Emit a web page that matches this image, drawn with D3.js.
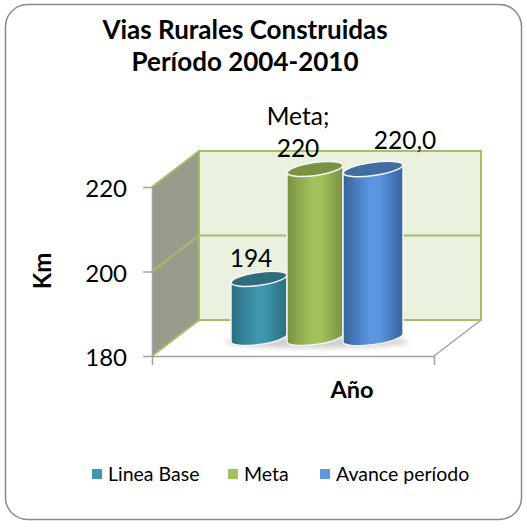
<!DOCTYPE html>
<html>
<head>
<meta charset="utf-8">
<script src="https://cdnjs.cloudflare.com/ajax/libs/d3/7.8.5/d3.min.js"></script>
<style>
    html, body { margin: 0; padding: 0; background: #fff; }
    svg { display: block; }
    text { font-family: Lato, "Open Sans", sans-serif; fill: #000; }
</style>
</head>
<body>
<svg id="chart" width="527" height="529"></svg>
<script>
var titleLines = ['Vias Rurales Construidas', 'Período 2004-2010'];
var series = ['Linea Base', 'Meta', 'Avance período'];
var values = [194, 220, 220];
var valueLabels = [['194'], ['Meta;', '220'], ['220,0']];
var yTicks = [180, 200, 220];
var yTitle = 'Km';
var xTitle = 'Año';

var colors = {
    'Linea Base': { dark: '#2b6d80', mid: '#3f96ae', top: '#2f6c7e' },
    'Meta': { dark: '#7a9140', mid: '#a2c25d', top: '#7b9243' },
    'Avance período': { dark: '#38639a', mid: '#5a96e2', top: '#426da0' }
};

var svg = d3.select('#chart');

// the box round the chart
svg.append('rect')
    .attr('x', 5.5).attr('y', 4.5)
    .attr('width', 516).attr('height', 515)
    .attr('rx', 22).attr('ry', 22)
    .attr('fill', '#fff')
    .attr('stroke', '#8a8a8a')
    .attr('stroke-width', 1.5);

// front plane of the 3d box, the back plane is this one shifted by depth
var y = d3.scaleLinear().domain([180, 220]).range([356, 187]);
var front = { left: 152, right: 434 };
var depth = { x: 47, y: -36 };
var green = '#a2bf68';
var grey = '#a3a3a3';

// side wall
svg.append('polygon')
    .attr('points', [
        [front.left, y(180)], [front.left, y(220)],
        [front.left + depth.x, y(220) + depth.y], [front.left + depth.x, y(180) + depth.y]
    ].join(' '))
    .attr('fill', '#999b8d');

// back wall
svg.append('rect')
    .attr('x', front.left + depth.x)
    .attr('y', y(220) + depth.y)
    .attr('width', front.right - front.left)
    .attr('height', y(180) - y(220))
    .attr('fill', '#ebf1df')
    .attr('stroke', green)
    .attr('stroke-width', 2);

// floor
svg.append('polygon')
    .attr('points', [
        [front.left, y(180)], [front.right, y(180)],
        [front.right + depth.x, y(180) + depth.y], [front.left + depth.x, y(180) + depth.y]
    ].join(' '))
    .attr('fill', '#fff');
svg.append('line')
    .attr('x1', front.left + depth.x).attr('x2', front.right + depth.x)
    .attr('y1', y(180) + depth.y).attr('y2', y(180) + depth.y)
    .attr('stroke', green).attr('stroke-width', 2);
svg.append('line')
    .attr('x1', front.right).attr('x2', front.right + depth.x)
    .attr('y1', y(180)).attr('y2', y(180) + depth.y)
    .attr('stroke', grey).attr('stroke-width', 1.5);

// gridlines running round the side and the back
yTicks.forEach(function(t) {
    svg.append('line')
        .attr('x1', front.left).attr('x2', front.left + depth.x)
        .attr('y1', y(t)).attr('y2', y(t) + depth.y)
        .attr('stroke', green).attr('stroke-width', 2);
    svg.append('line')
        .attr('x1', front.left + depth.x).attr('x2', front.right + depth.x)
        .attr('y1', y(t) + depth.y).attr('y2', y(t) + depth.y)
        .attr('stroke', green).attr('stroke-width', 2);
});

// axes
var yAxis = svg.append('g')
    .attr('transform', 'translate(' + front.left + ',0)')
    .call(d3.axisLeft(y).tickValues(yTicks).tickSize(9).tickPadding(16).tickSizeOuter(0));
yAxis.selectAll('line, path').attr('stroke', grey).attr('stroke-width', 1.5);
yAxis.selectAll('text').style('font-size', '24px').attr('fill', '#000').attr('dy', '0.4em');

var xAxisScale = d3.scaleLinear().domain([0, 1]).range([front.left, front.right]);
var xAxis = svg.append('g')
    .attr('transform', 'translate(0,' + y(180) + ')')
    .call(d3.axisBottom(xAxisScale).tickValues([0, 1]).tickSize(9).tickFormat('').tickSizeOuter(0));
xAxis.selectAll('line, path').attr('stroke', grey).attr('stroke-width', 1.5);

// cylinders
var defs = svg.append('defs');
defs.append('filter').attr('id', 'soft')
    .attr('x', '-20%').attr('y', '-100%').attr('width', '140%').attr('height', '300%')
    .append('feGaussianBlur').attr('stdDeviation', 2.5);

series.forEach(function(s, i) {
    var grad = defs.append('linearGradient').attr('id', 'grad' + i);
    grad.append('stop').attr('offset', '0%').attr('stop-color', colors[s].dark);
    grad.append('stop').attr('offset', '45%').attr('stop-color', colors[s].mid);
    grad.append('stop').attr('offset', '60%').attr('stop-color', colors[s].mid);
    grad.append('stop').attr('offset', '100%').attr('stop-color', colors[s].dark);
});

var barLeft = d3.scaleOrdinal().domain(series).range([231, 287, 343]);
var barWidth = d3.scaleOrdinal().domain(series).range([56, 56, 60]);
var tilt = 3.8;      // how far the ends of an ellipse rise and fall
var ry = 6.5;
var midDepth = depth.y / 2;

svg.append('ellipse')
    .attr('cx', 317).attr('cy', y(180) + midDepth + 4)
    .attr('rx', 92).attr('ry', 6)
    .attr('fill', '#a8a8a8')
    .attr('opacity', 0.55)
    .attr('filter', 'url(#soft)');

var bars = svg.selectAll('.bar')
    .data(series)
    .enter().append('g')
    .attr('class', 'bar');

bars.append('path')
    .attr('d', function(d, i) {
        var w = barWidth(d);
        var x0 = barLeft(d);
        var x1 = x0 + w;
        var top = y(values[i]) + midDepth;
        var bottom = y(180) + midDepth;
        return 'M' + x0 + ',' + (top + tilt)
            + 'L' + x0 + ',' + (bottom + tilt)
            + 'A' + (w / 2) + ',' + ry + ' -8 0 0 ' + x1 + ',' + (bottom - tilt)
            + 'L' + x1 + ',' + (top - tilt)
            + 'Z';
    })
    .attr('fill', function(d, i) { return 'url(#grad' + i + ')'; })
    .attr('stroke', '#f2f2f2')
    .attr('stroke-width', 1.5);

bars.append('ellipse')
    .attr('cx', 0).attr('cy', 0)
    .attr('rx', function(d) { return barWidth(d) / 2; })
    .attr('ry', ry)
    .attr('transform', function(d, i) {
        return 'translate(' + (barLeft(d) + barWidth(d) / 2) + ',' + (y(values[i]) + midDepth) + ') rotate(-8)';
    })
    .attr('fill', function(d) { return colors[d].top; })
    .attr('stroke', '#f7f7f7')
    .attr('stroke-width', 1.5);

// value labels
var labelX = d3.scaleOrdinal().domain(series).range([251, 298, 405]);
var labelGap = d3.scaleOrdinal().domain(series).range([12, 12, 20]);
series.forEach(function(s, i) {
    var lines = valueLabels[i];
    lines.forEach(function(l, j) {
        svg.append('text')
            .attr('x', labelX(s))
            .attr('y', y(values[i]) + midDepth - labelGap(s) - (lines.length - 1 - j) * 32)
            .attr('text-anchor', 'middle')
            .style('font-size', '24.5px')
            .text(l);
    });
});

// titles
titleLines.forEach(function(l, i) {
    svg.append('text')
        .attr('x', 245)
        .attr('y', 39 + i * 32)
        .attr('text-anchor', 'middle')
        .style('font-size', '26px')
        .style('font-weight', 'bold')
        .text(l);
});

svg.append('text')
    .attr('transform', 'translate(51,271) rotate(-90)')
    .attr('text-anchor', 'middle')
    .style('font-size', '24px')
    .style('font-weight', 'bold')
    .text(yTitle);

svg.append('text')
    .attr('x', 352).attr('y', 398)
    .attr('text-anchor', 'middle')
    .style('font-size', '23.5px')
    .style('font-weight', 'bold')
    .text(xTitle);

// legend
var legendX = d3.scaleOrdinal().domain(series).range([92, 228, 320]);
var legend = svg.selectAll('.legend')
    .data(series)
    .enter().append('g')
    .attr('class', 'legend')
    .attr('transform', function(d) { return 'translate(' + legendX(d) + ',469)'; });

legend.append('rect')
    .attr('width', 10).attr('height', 10)
    .attr('fill', function(d) { return colors[d].mid; });

legend.append('text')
    .attr('x', 16).attr('y', 12)
    .style('font-size', '19.5px')
    .text(function(d) { return d; });
</script>
</body>
</html>
